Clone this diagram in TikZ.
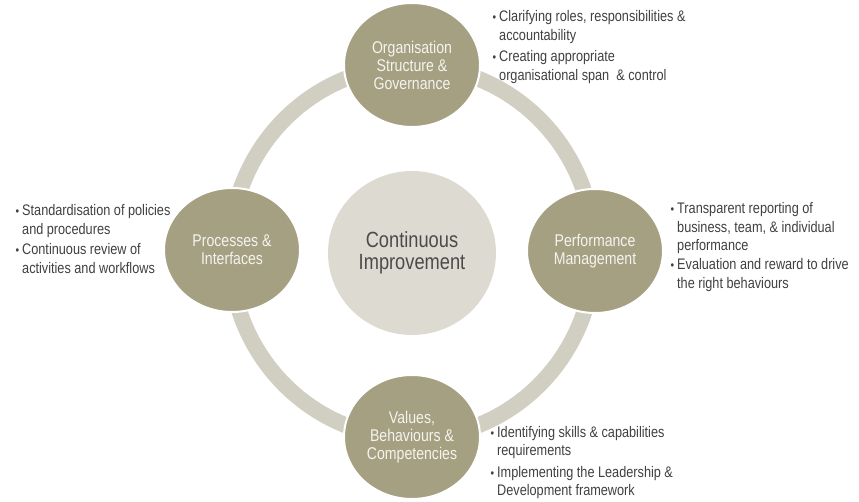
\documentclass[tikz,border=0pt]{standalone}
\usepackage{fontspec}
\setmainfont{Liberation Sans}[FakeStretch=0.83]
\usetikzlibrary{shapes.geometric}
\definecolor{olive}{HTML}{A6A083}
\definecolor{hub}{HTML}{DDDBD1}
\definecolor{track}{HTML}{D1CFC1}
\definecolor{bodytext}{HTML}{404040}
\definecolor{hubtext}{HTML}{4A4A4A}
\definecolor{labeltext}{HTML}{F4F3EE}
\tikzset{
  pillar/.style={ellipse, fill=olive, draw=white, line width=2pt,
    minimum width=136pt, minimum height=124pt, inner sep=0pt,
    text=labeltext, align=center, font=\fontsize{17}{18}\selectfont},
  hubnode/.style={ellipse, fill=hub, minimum width=168pt, minimum height=164pt,
    inner sep=0pt, text=hubtext, align=center, font=\fontsize{22}{22.5}\selectfont},
  item/.style={anchor=base west, inner sep=0pt, align=left, text=bodytext,
    font=\fontsize{15.3}{18.5}\selectfont},
}
\newcommand{\dotmark}{\llap{\scalebox{0.8}{\textbullet}\kern3pt}}
\begin{document}
\begin{tikzpicture}[x=1pt,y=-1pt]
\useasboundingbox (0,0) rectangle (859,502);
% the cycle track
\draw[track, line width=16pt] (412,252) ellipse [x radius=182, y radius=186];
% hub
\node[hubnode] (hub) at (412,253) {Continuous\\Improvement};
% the four pillars
\node[pillar] (org)  at (412,65)  {Organisation\\Structure \&\\Governance};
\node[pillar] (perf) at (595,251) {Performance\\Management};
\node[pillar] (val)  at (412,437) {Values,\\Behaviours \&\\Competencies};
\node[pillar] (proc) at (232,250) {Processes \&\\Interfaces};
% notes beside each pillar (placed by the baseline of their last line)
\node[item] (org1) at (499,40.5) {\dotmark Clarifying roles, responsibilities \&\\accountability};
\node[item] (org2) at (499,80.5) {\dotmark Creating appropriate\\organisational span\ \ \& control};
\node[item] (perf1) at (677,251) {\dotmark Transparent reporting of\\business, team, \& individual\\performance};
\node[item] (perf2) at (677,288.5) {\dotmark Evaluation and reward to drive\\the right behaviours};
\node[item] (val1) at (497,455.5) {\dotmark Identifying skills \& capabilities\\requirements};
\node[item] (val2) at (497,495.5) {\dotmark Implementing the Leadership \&\\Development framework};
\node[item] (proc1) at (22,234.5) {\dotmark Standardisation of policies\\and procedures};
\node[item] (proc2) at (22,273.5) {\dotmark Continuous review of\\activities and workflows};
\end{tikzpicture}
\end{document}
